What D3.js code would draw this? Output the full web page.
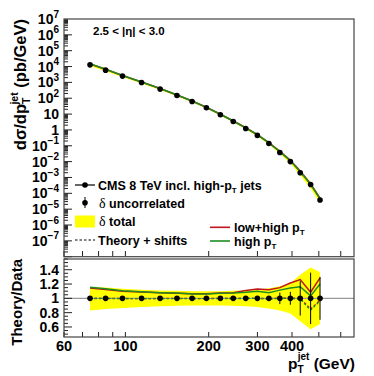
<!DOCTYPE html>
<html>
<head>
<meta charset="utf-8">
<script src="https://cdn.jsdelivr.net/npm/d3@7/dist/d3.min.js"></script>
<style>
  body { margin: 0; background: #fff; }
  text { font-family: "Liberation Sans", Arial, Helvetica, sans-serif; font-weight: bold; fill: #000; }
</style>
</head>
<body>
<svg id="chart" width="374" height="376"></svg>
<script>
// data
const ptPoints = [74.5, 84.8, 97.6, 114.4, 133.5, 153.6, 174.2, 196.2, 220.4, 245.3, 272.2, 299.8, 330, 361.5, 394.5, 428.3, 467, 505];
const xsec = [1.28e4, 5.9e3, 2.5e3, 980, 377, 148, 62, 25, 9.0, 3.4, 1.24, 0.45, 0.14, 0.038, 0.010, 0.002, 3.6e-4, 3.8e-5];
const ratioLowHigh = [1.143, 1.125, 1.100, 1.088, 1.078, 1.072, 1.066, 1.064, 1.075, 1.078, 1.11, 1.13, 1.12, 1.15, 1.215, 1.262, 1.085, 1.285];
const ratioHigh = [1.155, 1.135, 1.105, 1.092, 1.080, 1.074, 1.062, 1.062, 1.070, 1.075, 1.085, 1.10, 1.08, 1.115, 1.145, 1.163, 1.035, 1.20];
const shiftLowHigh = [1.0, 1.0, 0.998, 0.997, 0.998, 1.0, 0.998, 0.997, 1.0, 1.0, 1.0, 1.001, 0.995, 1.005, 1.004, 1.0, 0.85, 0.975];
const shiftHigh = [0.998, 0.998, 0.996, 0.995, 0.996, 0.998, 0.996, 0.995, 0.998, 0.998, 0.998, 0.999, 0.99, 1.0, 0.998, 0.99, 0.835, 0.965];
const totalUp = [1.16, 1.15, 1.135, 1.12, 1.11, 1.105, 1.10, 1.10, 1.10, 1.105, 1.11, 1.12, 1.14, 1.17, 1.21, 1.33, 1.43, 1.37];
const totalDown = [0.83, 0.85, 0.865, 0.88, 0.89, 0.895, 0.90, 0.90, 0.90, 0.895, 0.89, 0.88, 0.86, 0.83, 0.79, 0.68, 0.57, 0.64];
const uncorrErr = [0.005, 0.005, 0.005, 0.005, 0.005, 0.006, 0.007, 0.008, 0.01, 0.012, 0.015, 0.02, 0.03, 0.08, 0.09, 0.24, 0.36, 0.30];
const xTickLabels = [60, 100, 200, 300, 400];
const xTicksAll = [60, 70, 80, 90, 100, 200, 300, 400, 500, 600];
const ratioTicks = [0.6, 0.8, 1, 1.2, 1.4];
const decades = [-7, -6, -5, -4, -3, -2, -1, 0, 1, 2, 3, 4, 5, 6, 7];

const red = "#c0141e", green = "#1f8c1f";
const svg = d3.select("#chart");

const left = 64, right = 354;
const x = d3.scaleLog().domain([60, 670]).range([left, right]);
const yTop = d3.scaleLog().domain([1e-8, 1e7]).range([256.7, 19]);
const yRat = d3.scaleLinear().domain([0.46, 1.55]).range([337, 259]);

const idx = d3.range(ptPoints.length);

// ---------- upper panel ----------
const up = svg.append("g");
up.append("path")
  .datum(idx)
  .attr("fill", "#ffff00")
  .attr("d", d3.area().x(i => x(ptPoints[i])).y0(i => yTop(xsec[i] * totalDown[i])).y1(i => yTop(xsec[i] * totalUp[i])));
[[ratioLowHigh, red], [ratioHigh, green]].forEach(([r, c]) => {
  up.append("path").datum(idx).attr("fill", "none").attr("stroke", c).attr("stroke-width", 1.6)
    .attr("d", d3.line().x(i => x(ptPoints[i])).y(i => yTop(xsec[i] * r[i])));
});
up.selectAll("circle").data(idx).enter().append("circle")
  .attr("cx", i => x(ptPoints[i])).attr("cy", i => yTop(xsec[i])).attr("r", 2.8).attr("fill", "#000");

// y ticks upper
const yt = svg.append("g").attr("stroke", "#222").attr("stroke-width", 1);
for (let e = -8; e < 7; e++) {
  for (let m = 1; m < 10; m++) {
    const v = m * Math.pow(10, e);
    const yy = yTop(v);
    yt.append("line").attr("x1", left).attr("x2", left + (m === 1 ? 8 : 4)).attr("y1", yy).attr("y2", yy);
  }
}
decades.forEach(e => {
  const t = svg.append("text").attr("x", 59).attr("y", yTop(Math.pow(10, e)) + 5).attr("text-anchor", "end").style("font-size", "14px");
  if (e === 0) t.text("1");
  else if (e === 1) t.text("10");
  else {
    t.append("tspan").text("10");
    t.append("tspan").attr("dy", -6.5).style("font-size", "10px").text(e < 0 ? "\u2212" + (-e) : e);
  }
});
// x ticks on upper panel bottom
xTicksAll.forEach(v => {
  svg.append("line").attr("x1", x(v)).attr("x2", x(v)).attr("y1", 256.7).attr("y2", 251).attr("stroke", "#222");
});
svg.append("rect").attr("x", left).attr("y", 19).attr("width", right - left).attr("height", 256.7 - 19)
  .attr("fill", "none").attr("stroke", "#444").attr("stroke-width", 1.2);

// label eta
svg.append("text").attr("x", 93).attr("y", 35).style("font-size", "11.5px").text("2.5 < |\u03b7| < 3.0");

// y title upper
const yTitle = svg.append("text").attr("transform", "translate(26,19) rotate(-90)").attr("text-anchor", "end").style("font-size", "16.5px");
yTitle.append("tspan").text("d\u03c3/dp");
yTitle.append("tspan").attr("dy", 4).style("font-size", "10.5px").text("T");
yTitle.append("tspan").attr("dy", -12.5).attr("dx", -7).style("font-size", "10.5px").text("jet");
yTitle.append("tspan").attr("dy", 8.5).text(" (pb/GeV)");

// legend
const lg = svg.append("g");
lg.append("line").attr("x1", 75).attr("x2", 95).attr("y1", 185).attr("y2", 185).attr("stroke", "#000").attr("stroke-width", 1.2);
lg.append("circle").attr("cx", 85).attr("cy", 185).attr("r", 2.8);
const t1 = lg.append("text").attr("x", 98).attr("y", 189.5).style("font-size", "12.5px");
t1.append("tspan").text("CMS 8 TeV incl. high-p");
t1.append("tspan").attr("dy", 3).style("font-size", "8px").text("T");
t1.append("tspan").attr("dy", -3).text(" jets");

lg.append("line").attr("x1", 85).attr("x2", 85).attr("y1", 197).attr("y2", 208).attr("stroke", "#000");
lg.append("circle").attr("cx", 85).attr("cy", 202.7).attr("r", 2.8);
const t2 = lg.append("text").attr("x", 99).attr("y", 207.5).style("font-size", "12.5px");
t2.append("tspan").style("font-family", "'Liberation Serif', serif").style("font-weight", "normal").style("font-size", "14px").text("\u03b4");
t2.append("tspan").text(" uncorrelated");

lg.append("rect").attr("x", 75).attr("y", 215.5).attr("width", 20).attr("height", 12).attr("fill", "#ffff00");
const t3 = lg.append("text").attr("x", 99).attr("y", 226).style("font-size", "12.5px");
t3.append("tspan").style("font-family", "'Liberation Serif', serif").style("font-weight", "normal").style("font-size", "14px").text("\u03b4");
t3.append("tspan").text(" total");

lg.append("line").attr("x1", 75).attr("x2", 95).attr("y1", 240).attr("y2", 240).attr("stroke", "#000").attr("stroke-dasharray", "2.5,2");
lg.append("text").attr("x", 98).attr("y", 244.5).style("font-size", "12.5px").text("Theory + shifts");

lg.append("line").attr("x1", 210).attr("x2", 230).attr("y1", 227.3).attr("y2", 227.3).attr("stroke", red).attr("stroke-width", 1.6);
const t4 = lg.append("text").attr("x", 234).attr("y", 231.5).style("font-size", "12.5px");
t4.append("tspan").text("low+high p");
t4.append("tspan").attr("dy", 3).style("font-size", "8px").text("T");
lg.append("line").attr("x1", 210).attr("x2", 230).attr("y1", 241).attr("y2", 241).attr("stroke", green).attr("stroke-width", 1.6);
const t5 = lg.append("text").attr("x", 234).attr("y", 245.5).style("font-size", "12.5px");
t5.append("tspan").text("high p");
t5.append("tspan").attr("dy", 3).style("font-size", "8px").text("T");

// ---------- lower panel ----------
const lo = svg.append("g");
lo.append("path").datum(idx).attr("fill", "#ffff00")
  .attr("d", d3.area().x(i => x(ptPoints[i])).y0(i => yRat(totalDown[i])).y1(i => yRat(totalUp[i])));
lo.append("line").attr("x1", left).attr("x2", right).attr("y1", yRat(1)).attr("y2", yRat(1)).attr("stroke", "#999").attr("stroke-width", 1.2);
[[ratioLowHigh, red], [ratioHigh, green]].forEach(([r, c]) => {
  lo.append("path").datum(idx).attr("fill", "none").attr("stroke", c).attr("stroke-width", 1.5)
    .attr("d", d3.line().x(i => x(ptPoints[i])).y(i => yRat(r[i])));
});
[[shiftLowHigh, red], [shiftHigh, green]].forEach(([r, c]) => {
  lo.append("path").datum(idx).attr("fill", "none").attr("stroke", c).attr("stroke-width", 1.3).attr("stroke-dasharray", "2.5,2")
    .attr("d", d3.line().x(i => x(ptPoints[i])).y(i => yRat(r[i])));
});
lo.selectAll(".eb").data(idx).enter().append("line")
  .attr("x1", i => x(ptPoints[i])).attr("x2", i => x(ptPoints[i]))
  .attr("y1", i => yRat(1 - uncorrErr[i])).attr("y2", i => yRat(1 + uncorrErr[i]))
  .attr("stroke", "#000").attr("stroke-width", 1);
lo.selectAll("circle").data(idx).enter().append("circle")
  .attr("cx", i => x(ptPoints[i])).attr("cy", yRat(1)).attr("r", 2.8).attr("fill", "#000");

// lower y ticks
d3.range(0.5, 1.551, 0.05).forEach(v => {
  const major = ratioTicks.some(t => Math.abs(t - v) < 1e-6);
  svg.append("line").attr("x1", left).attr("x2", left + (major ? 8 : 4)).attr("y1", yRat(v)).attr("y2", yRat(v)).attr("stroke", "#222");
});
ratioTicks.forEach(v => {
  svg.append("text").attr("x", 59).attr("y", yRat(v) + 5).attr("text-anchor", "end").style("font-size", "14px").text(v);
});
xTicksAll.forEach(v => {
  svg.append("line").attr("x1", x(v)).attr("x2", x(v)).attr("y1", 337).attr("y2", 332).attr("stroke", "#222");
});
xTickLabels.forEach(v => {
  svg.append("text").attr("x", x(v)).attr("y", 351).attr("text-anchor", "middle").style("font-size", "14.5px").text(v);
});
svg.append("rect").attr("x", left).attr("y", 259).attr("width", right - left).attr("height", 337 - 259)
  .attr("fill", "none").attr("stroke", "#444").attr("stroke-width", 1.2);

svg.append("text").attr("transform", "translate(22,259) rotate(-90)").attr("text-anchor", "end").style("font-size", "15px").text("Theory/Data");

const xt = svg.append("text").attr("x", 355).attr("y", 369).attr("text-anchor", "end").style("font-size", "15.5px");
xt.append("tspan").text("p");
xt.append("tspan").attr("dy", 4).style("font-size", "10px").text("T");
xt.append("tspan").attr("dy", -13).attr("dx", -6).style("font-size", "10px").text("jet");
xt.append("tspan").attr("dy", 9).text(" (GeV)");
</script>
</body>
</html>
